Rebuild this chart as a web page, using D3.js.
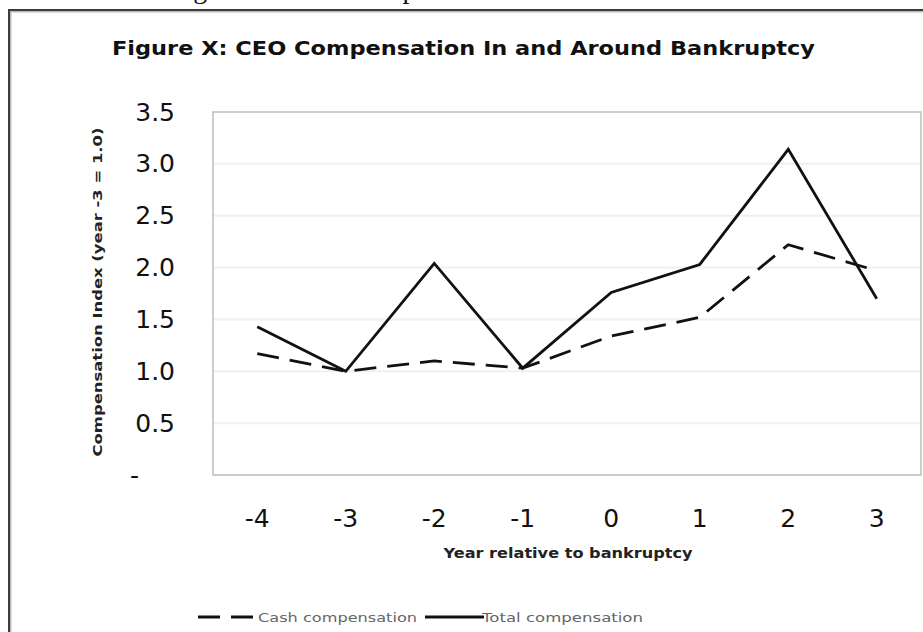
<!DOCTYPE html>
<html>
<head>
<meta charset="utf-8">
<script src="https://cdn.jsdelivr.net/npm/d3@7"></script>
<style>
  body { margin: 0; background: #fff; }
  svg { display: block; }
</style>
</head>
<body>
<svg width="923" height="632"></svg>
<script>
// data
const years = ["-4", "-3", "-2", "-1", "0", "1", "2", "3"];
const cashComp = [1.17, 1.0, 1.10, 1.03, 1.34, 1.52, 2.22, 1.97];
const totalComp = [1.43, 1.0, 2.04, 1.03, 1.76, 2.03, 3.14, 1.70];
const yTicks = [0, 0.5, 1.0, 1.5, 2.0, 2.5, 3.0, 3.5];

const svg = d3.select("svg");
const font = "'DejaVu Sans', Verdana, sans-serif";

// cut-off caption above the chart (only descenders show)
svg.append("text")
  .attr("x", 170).attr("y", -2)
  .attr("font-family", "'Liberation Serif', serif")
  .attr("font-size", 28)
  .attr("fill", "#111")
  .text("Figure X: CEO Compensation");

// outer chart frame
svg.append("rect")
  .attr("x", 10).attr("y", 11)
  .attr("width", 1000).attr("height", 800)
  .attr("fill", "none")
  .attr("stroke", "#bbb").attr("stroke-width", 3);
svg.append("rect")
  .attr("x", 9).attr("y", 10)
  .attr("width", 1000).attr("height", 800)
  .attr("fill", "none")
  .attr("stroke", "#3c3c3c").attr("stroke-width", 2);

// title
svg.append("text")
  .attr("x", 112).attr("y", 55)
  .attr("font-family", font)
  .attr("font-weight", "bold")
  .attr("font-size", 20)
  .attr("textLength", 703)
  .attr("lengthAdjust", "spacingAndGlyphs")
  .attr("fill", "#111")
  .text("Figure X: CEO Compensation In and Around Bankruptcy");

const plotL = 213, plotR = 921, plotT = 112, plotB = 475;

const x = d3.scaleBand().domain(years).range([plotL, plotR]);
const y = d3.scaleLinear().domain([0, 3.5]).range([plotB, plotT]);

// gridlines
svg.append("g")
  .selectAll("line")
  .data(yTicks.filter(d => d > 0 && d < 3.5))
  .join("line")
    .attr("x1", plotL).attr("x2", plotR)
    .attr("y1", d => y(d)).attr("y2", d => y(d))
    .attr("stroke", "#f0f0f0")
    .attr("stroke-width", 2);

// plot frame
svg.append("rect")
  .attr("x", plotL).attr("y", plotT)
  .attr("width", plotR - plotL).attr("height", plotB - plotT)
  .attr("fill", "none")
  .attr("stroke", "#bdbdbd")
  .attr("stroke-width", 1.5);

// y axis
const yAxis = svg.append("g")
  .attr("transform", `translate(${plotL},0)`)
  .call(d3.axisLeft(y)
    .tickValues(yTicks)
    .tickSize(0)
    .tickPadding(38)
    .tickFormat(d => d === 0 ? "-" : d.toFixed(1)));
yAxis.select(".domain").remove();
yAxis.selectAll("text")
  .attr("font-family", font)
  .attr("font-size", 25)
  .attr("fill", "#111");
yAxis.selectAll(".tick")
  .filter(d => d === 0)
  .select("text")
    .attr("text-anchor", "start")
    .attr("x", 130 - plotL);

// x axis
const xAxis = svg.append("g")
  .attr("transform", `translate(0,${plotB})`)
  .call(d3.axisBottom(x).tickSize(0).tickPadding(34));
xAxis.select(".domain").remove();
xAxis.selectAll("text")
  .attr("font-family", font)
  .attr("font-size", 25)
  .attr("fill", "#111");

// axis titles
svg.append("text")
  .attr("transform", "translate(102,292) rotate(-90)")
  .attr("text-anchor", "middle")
  .attr("font-family", font)
  .attr("font-weight", "bold")
  .attr("font-size", 12)
  .attr("textLength", 329)
  .attr("lengthAdjust", "spacingAndGlyphs")
  .attr("fill", "#222")
  .text("Compensation Index (year -3 = 1.0)");

svg.append("text")
  .attr("x", 568).attr("y", 558)
  .attr("text-anchor", "middle")
  .attr("font-family", font)
  .attr("font-weight", "bold")
  .attr("font-size", 13.5)
  .attr("textLength", 249)
  .attr("lengthAdjust", "spacingAndGlyphs")
  .attr("fill", "#222")
  .text("Year relative to bankruptcy");

// lines
const line = d3.line()
  .x((d, i) => x(years[i]) + x.bandwidth() / 2)
  .y(d => y(d));

const series = [
  { name: "Cash compensation", values: cashComp, dash: "22,11" },
  { name: "Total compensation", values: totalComp, dash: null }
];

svg.append("g")
  .selectAll("path")
  .data(series)
  .join("path")
    .attr("d", d => line(d.values))
    .attr("fill", "none")
    .attr("stroke", "#111")
    .attr("stroke-width", 2.8)
    .attr("stroke-dasharray", d => d.dash);

// legend
const legendX = [198, 425];
const legendText = [258, 482];
const legendW = [159, 161];
const leg = svg.append("g")
  .selectAll("g")
  .data(series)
  .join("g");
leg.append("line")
  .attr("x1", (d, i) => legendX[i])
  .attr("x2", (d, i) => legendX[i] + 59)
  .attr("y1", 617).attr("y2", 617)
  .attr("stroke", "#111")
  .attr("stroke-width", 2.8)
  .attr("stroke-dasharray", d => d.dash);
leg.append("text")
  .attr("x", (d, i) => legendText[i])
  .attr("y", 622)
  .attr("font-family", font)
  .attr("font-size", 13)
  .attr("textLength", (d, i) => legendW[i])
  .attr("lengthAdjust", "spacingAndGlyphs")
  .attr("fill", "#666")
  .text(d => d.name);
</script>
</body>
</html>
